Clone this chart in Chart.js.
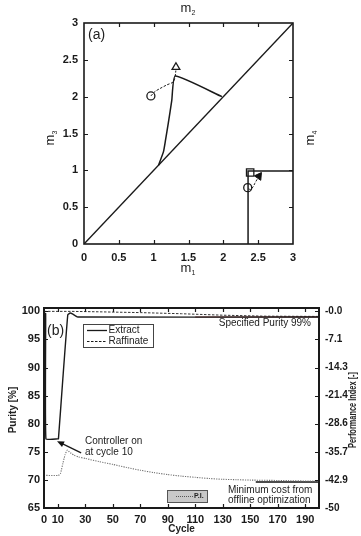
<!DOCTYPE html>
<html><head><meta charset="utf-8">
<script src="https://cdn.jsdelivr.net/npm/chart.js@4/dist/chart.umd.min.js"></script>
<style>
html,body{margin:0;padding:0;background:#fff;}
#wrap{position:relative;width:361px;height:536px;overflow:hidden;}
#ca{position:absolute;left:0;top:0;}
#cb{position:absolute;left:0;top:280px;}
</style></head><body>
<div id="wrap">
<canvas id="ca" width="361" height="280"></canvas>
<canvas id="cb" width="361" height="256"></canvas>
</div>
<script>
// ================= Panel (a) data =================
const aTicks = [0, 0.5, 1, 1.5, 2, 2.5, 3];
const aTickLabels = ['0', '0.5', '1', '1.5', '2', '2.5', '3'];
const diagX = [0, 3];
const diagY = [0, 3];
const triX = [1.07, 1.14, 1.17, 1.21, 1.26, 1.31, 1.98];
const triY = [1.07, 1.25, 1.41, 1.64, 1.95, 2.28, 2.00];
const pathAX = [0.96, 1.02, 1.09, 1.19, 1.28, 1.31];
const pathAY = [2.01, 2.07, 2.11, 2.16, 2.20, 2.27];
const riseX = [1.31, 1.32];
const riseY = [2.28, 2.37];
const stepX = [2.355, 2.355, 3.0];
const stepY = [0, 0.99, 0.99];
const pathBX = [2.36, 2.39, 2.43, 2.45, 2.48, 2.50];
const pathBY = [0.75, 0.74, 0.78, 0.82, 0.87, 0.90];
const circleX = [0.96, 2.35];
const circleY = [2.01, 0.765];
const openTriX = [1.32];
const openTriY = [2.40];
const squareX = [2.385];
const squareY = [0.97];
const headX = [2.51];
const headY = [0.92];

// ================= Panel (b) data =================
const cycleTicks = [0, 10, 30, 50, 70, 90, 110, 130, 150, 170, 190];
const purityTicks = [65, 70, 75, 80, 85, 90, 95, 100];
const piTicks = [0, -7.142857, -14.285714, -21.428571, -28.571429, -35.714286, -42.857143, -50];
const piTickLabels = ['-0.0', '-7.1', '-14.3', '-21.4', '-28.6', '-35.7', '-42.9', '-50'];
const extractX = [0, 1.2, 1.4, 10, 10.5, 13.7, 17.3, 19, 21, 24.5, 200];
const extractY = [99.6, 99.6, 77.3, 77.3, 77.3, 88.0, 99.4, 99.7, 99.5, 99.0, 99.0];
const raffX = [0, 20, 40, 70, 100, 130, 160, 200];
const raffY = [100, 100, 99.92, 99.78, 99.58, 99.32, 99.15, 99.1];
const piX = [0, 10.5, 12, 13.7, 15.3, 16.9, 18.3, 19.8, 22, 25, 30, 40, 50, 60, 70, 80, 90, 100, 110, 120, 130, 140, 150, 170, 200];
const piY = [-41.7, -41.7, -41.2, -38.7, -36.5, -35.3, -35.7, -36.1, -36.6, -37.0, -37.4, -38.2, -38.9, -39.7, -40.4, -41.0, -41.5, -41.9, -42.2, -42.5, -42.7, -42.8, -42.9, -43.0, -43.2];
const minCostX = [154, 200];
const minCostY = [-43.4, -43.4];
const specX = [110, 200];
const specY = [99, 99];
const arrowTip = [9.5, 76.9];
const arrowTail = [27, 74.8];

const FONT = '"Liberation Sans", Arial, Helvetica, sans-serif';
const pts = (xs, ys) => xs.map((x, i) => ({x: x, y: ys[i]}));

function innerTicksPlugin(spec) {
  return {
    id: 'innerTicks',
    afterDatasetsDraw(chart) {
      const {ctx, chartArea: a, scales} = chart;
      ctx.save();
      ctx.strokeStyle = '#1a1a1a';
      ctx.lineWidth = spec.tickWidth;
      const L = spec.len;
      ctx.beginPath();
      spec.xTicks.forEach(v => {
        const px = Math.round(scales.x.getPixelForValue(v)) + 0.5;
        if (px <= a.left + 1 || px >= a.right - 1) return;
        ctx.moveTo(px, a.bottom); ctx.lineTo(px, a.bottom - L);
        ctx.moveTo(px, a.top); ctx.lineTo(px, a.top + L);
      });
      spec.yTicks.forEach(v => {
        const py = Math.round(scales.y.getPixelForValue(v)) + 0.5;
        if (py <= a.top + 1 || py >= a.bottom - 1) return;
        ctx.moveTo(a.left, py); ctx.lineTo(a.left + L, py);
        if (!spec.y2Ticks) { ctx.moveTo(a.right, py); ctx.lineTo(a.right - L, py); }
      });
      if (spec.y2Ticks) {
        spec.y2Ticks.forEach(v => {
          const py = Math.round(scales.y2.getPixelForValue(v)) + 0.5;
          if (py <= a.top + 1 || py >= a.bottom - 1) return;
          ctx.moveTo(a.right, py); ctx.lineTo(a.right - L, py);
        });
      }
      ctx.stroke();
      ctx.lineWidth = spec.frameWidth;
      ctx.strokeRect(a.left, a.top, a.right - a.left, a.bottom - a.top);
      ctx.restore();
    }
  };
}

function drawM(ctx, x, y, sub, rot) {
  ctx.save();
  ctx.translate(x, y);
  if (rot) ctx.rotate(-Math.PI / 2);
  ctx.fillStyle = '#222';
  ctx.font = '13px ' + FONT;
  ctx.textBaseline = 'alphabetic';
  const w = ctx.measureText('m').width;
  const sw = 5;
  ctx.fillText('m', -(w + sw) / 2, 4);
  ctx.font = '7px ' + FONT;
  ctx.fillText(sub, -(w + sw) / 2 + w, 7);
  ctx.restore();
}

// ================= Chart (a) =================
const lineDs = (xs, ys, extra) => Object.assign({
  data: pts(xs, ys), showLine: true, pointRadius: 0, borderColor: '#1a1a1a',
  borderWidth: 1.3, fill: false, tension: 0
}, extra || {});

new Chart(document.getElementById('ca'), {
  type: 'scatter',
  data: {
    datasets: [
      lineDs(diagX, diagY, {borderWidth: 1.4}),
      lineDs(triX, triY, {borderWidth: 1.5, tension: 0.15}),
      lineDs(pathAX, pathAY, {borderWidth: 1, borderDash: [2.5, 1.5], tension: 0.3}),
      lineDs(riseX, riseY, {borderWidth: 1, borderDash: [2, 1.5]}),
      lineDs(stepX, stepY, {borderWidth: 1.5}),
      lineDs(pathBX, pathBY, {borderWidth: 1, borderDash: [2.5, 1.5], tension: 0.3}),
      {data: pts(circleX, circleY), pointStyle: 'circle', pointRadius: 4, borderColor: '#1a1a1a', backgroundColor: '#fff', borderWidth: 1.3, showLine: false},
      {data: pts(openTriX, openTriY), pointStyle: 'triangle', pointRadius: 4.5, borderColor: '#1a1a1a', backgroundColor: '#fff', borderWidth: 1.3, showLine: false},
      {data: pts(squareX, squareY), pointStyle: 'rect', pointRadius: 5.2, borderColor: '#1a1a1a', backgroundColor: '#fff', borderWidth: 1.3, showLine: false},
      {data: pts(headX, headY), pointStyle: 'triangle', pointRadius: 4.5, rotation: 35, borderColor: '#111', backgroundColor: '#111', borderWidth: 1, showLine: false}
    ]
  },
  options: {
    responsive: false, animation: false, devicePixelRatio: 1,
    layout: {padding: {top: 23, right: 68, left: 0, bottom: 0}},
    plugins: {legend: {display: false}, tooltip: {enabled: false}},
    scales: {
      x: {
        type: 'linear', min: 0, max: 3, position: 'bottom',
        grid: {display: false, drawTicks: false}, border: {display: false},
        afterBuildTicks: s => { s.ticks = aTicks.map(v => ({value: v})); },
        afterFit: s => { s.height = 36; },
        ticks: {padding: 7, color: '#1a1a1a', font: {family: FONT, size: 11, weight: 'bold'},
          callback: (v, i) => aTickLabels[i], maxRotation: 0, autoSkip: false}
      },
      y: {
        type: 'linear', min: 0, max: 3, position: 'left',
        grid: {display: false, drawTicks: false}, border: {display: false},
        afterBuildTicks: s => { s.ticks = aTicks.map(v => ({value: v})); },
        afterFit: s => { s.width = 84; },
        ticks: {padding: 6, color: '#1a1a1a', font: {family: FONT, size: 11, weight: 'bold'},
          callback: (v, i) => aTickLabels[i], autoSkip: false}
      }
    }
  },
  plugins: [
    innerTicksPlugin({xTicks: aTicks, yTicks: aTicks, len: 4, tickWidth: 1.2, frameWidth: 1.6}),
    {
      id: 'labelsA',
      afterDraw(chart) {
        const ctx = chart.ctx;
        const a = chart.chartArea;
        const cx = (a.left + a.right) / 2;
        drawM(ctx, cx, 268, '1', false);
        drawM(ctx, cx, 8, '2', false);
        drawM(ctx, 50, (a.top + a.bottom) / 2 + 4, '3', true);
        drawM(ctx, 310, (a.top + a.bottom) / 2 + 4, '4', true);
        ctx.save();
        ctx.fillStyle = '#222';
        ctx.font = '14px ' + FONT;
        ctx.textBaseline = 'middle';
        ctx.fillText('(a)', a.left + 4, 35);
        ctx.restore();
      }
    }
  ]
});

// ================= Chart (b) =================
new Chart(document.getElementById('cb'), {
  type: 'scatter',
  data: {
    datasets: [
      lineDs(piX, piY, {yAxisID: 'y2', borderColor: '#707070', borderWidth: 1.1, borderDash: [1.2, 1.2], tension: 0.2}),
      lineDs(minCostX, minCostY, {yAxisID: 'y2', borderColor: '#111', borderWidth: 1.6}),
      lineDs(extractX, extractY, {yAxisID: 'y', borderColor: '#1a1a1a', borderWidth: 1.4, tension: 0.1}),
      lineDs(specX, specY, {yAxisID: 'y', borderColor: '#8a3030', borderWidth: 1.2}),
      lineDs(raffX, raffY, {yAxisID: 'y', borderColor: '#333', borderWidth: 1, borderDash: [2.5, 1.5]})
    ]
  },
  options: {
    responsive: false, animation: false, devicePixelRatio: 1,
    layout: {padding: {top: 28, right: 0, left: 0, bottom: 0}},
    plugins: {legend: {display: false}, tooltip: {enabled: false}},
    scales: {
      x: {
        type: 'linear', min: 0, max: 200, position: 'bottom',
        grid: {display: false, drawTicks: false}, border: {display: false},
        afterBuildTicks: s => { s.ticks = cycleTicks.map(v => ({value: v})); },
        afterFit: s => { s.height = 28; },
        ticks: {padding: 5, color: '#1a1a1a', font: {family: FONT, size: 11, weight: 'bold'}, maxRotation: 0, autoSkip: false}
      },
      y: {
        type: 'linear', min: 65, max: 100.6, position: 'left',
        grid: {display: false, drawTicks: false}, border: {display: false},
        afterBuildTicks: s => { s.ticks = purityTicks.map(v => ({value: v})); },
        afterFit: s => { s.width = 44; },
        ticks: {padding: 4, color: '#1a1a1a', font: {family: FONT, size: 11, weight: 'bold'}, autoSkip: false}
      },
      y2: {
        type: 'linear', min: -50, max: 0.857, position: 'right',
        grid: {display: false, drawTicks: false}, border: {display: false},
        afterBuildTicks: s => { s.ticks = piTicks.map(v => ({value: v})); },
        afterFit: s => { s.width = 42; },
        ticks: {padding: 6, color: '#1a1a1a', font: {family: FONT, size: 10, weight: 'bold'},
          callback: (v, i) => piTickLabels[i], autoSkip: false}
      }
    }
  },
  plugins: [
    innerTicksPlugin({xTicks: cycleTicks, yTicks: purityTicks, y2Ticks: piTicks, len: 4, tickWidth: 1.2, frameWidth: 2}),
    {
      id: 'labelsB',
      afterDraw(chart) {
        const ctx = chart.ctx;
        const a = chart.chartArea;
        const sx = chart.scales.x, sy = chart.scales.y;
        ctx.save();
        ctx.fillStyle = '#222';
        // axis titles
        ctx.font = 'bold 10px ' + FONT;
        ctx.textAlign = 'center';
        ctx.textBaseline = 'middle';
        ctx.fillText('Cycle', (a.left + a.right) / 2, 249);
        ctx.save(); ctx.translate(13, 130); ctx.rotate(-Math.PI / 2);
        ctx.fillText('Purity [%]', 0, 0); ctx.restore();
        ctx.save(); ctx.translate(353, 130); ctx.rotate(-Math.PI / 2); ctx.scale(0.74, 1);
        ctx.fillText('Performance Index [-]', 0, 0); ctx.restore();
        // (b)
        ctx.font = '14px ' + FONT;
        ctx.textAlign = 'left';
        ctx.fillText('(b)', 47, 51);
        // legend box
        ctx.strokeStyle = '#444'; ctx.lineWidth = 1;
        ctx.fillStyle = '#fff';
        ctx.fillRect(83.5, 44.5, 70, 23);
        ctx.strokeRect(83.5, 44.5, 70, 23);
        ctx.strokeStyle = '#1a1a1a'; ctx.lineWidth = 1.3;
        ctx.beginPath(); ctx.moveTo(87, 50.5); ctx.lineTo(107, 50.5); ctx.stroke();
        ctx.setLineDash([2.5, 1.5]); ctx.lineWidth = 1;
        ctx.beginPath(); ctx.moveTo(87, 61.5); ctx.lineTo(107, 61.5); ctx.stroke();
        ctx.setLineDash([]);
        ctx.fillStyle = '#222';
        ctx.font = '10px ' + FONT;
        ctx.fillText('Extract', 108.5, 50.5);
        ctx.fillText('Raffinate', 108.5, 61.5);
        // specified purity
        ctx.textAlign = 'right';
        ctx.fillText('Specified Purity 99%', 311, 43.5);
        // controller annotation
        ctx.textAlign = 'left';
        ctx.fillText('Controller on', 85, 161);
        ctx.fillText('at cycle 10', 85, 172);
        const tx = sx.getPixelForValue(arrowTip[0]), ty = sy.getPixelForValue(arrowTip[1]);
        const ex = sx.getPixelForValue(arrowTail[0]), ey = sy.getPixelForValue(arrowTail[1]);
        ctx.strokeStyle = '#1a1a1a'; ctx.lineWidth = 1.3;
        const ang = Math.atan2(ty - ey, tx - ex);
        ctx.beginPath(); ctx.moveTo(ex, ey); ctx.lineTo(tx - 4 * Math.cos(ang), ty - 4 * Math.sin(ang)); ctx.stroke();
        ctx.fillStyle = '#111';
        ctx.beginPath();
        ctx.moveTo(tx, ty);
        ctx.lineTo(tx - 7 * Math.cos(ang) + 3 * Math.sin(ang), ty - 7 * Math.sin(ang) - 3 * Math.cos(ang));
        ctx.lineTo(tx - 7 * Math.cos(ang) - 3 * Math.sin(ang), ty - 7 * Math.sin(ang) + 3 * Math.cos(ang));
        ctx.closePath(); ctx.fill();
        // minimum cost text
        ctx.fillStyle = '#222';
        ctx.font = '10px ' + FONT;
        ctx.fillText('Minimum cost from', 228, 210);
        ctx.fillText('offline optimization', 228, 220.5);
        // P.I. legend
        ctx.fillStyle = '#c8c8c8';
        ctx.fillRect(167.5, 210.5, 40, 12);
        ctx.strokeStyle = '#555'; ctx.lineWidth = 1;
        ctx.strokeRect(167.5, 210.5, 40, 12);
        ctx.strokeStyle = '#555'; ctx.setLineDash([1, 1]);
        ctx.beginPath(); ctx.moveTo(176, 216.5); ctx.lineTo(193, 216.5); ctx.stroke();
        ctx.setLineDash([]);
        ctx.fillStyle = '#222';
        ctx.font = 'bold 7px ' + FONT;
        ctx.fillText('P.I.', 194, 216.5);
        ctx.restore();
      }
    }
  ]
});
</script>
</body></html>
